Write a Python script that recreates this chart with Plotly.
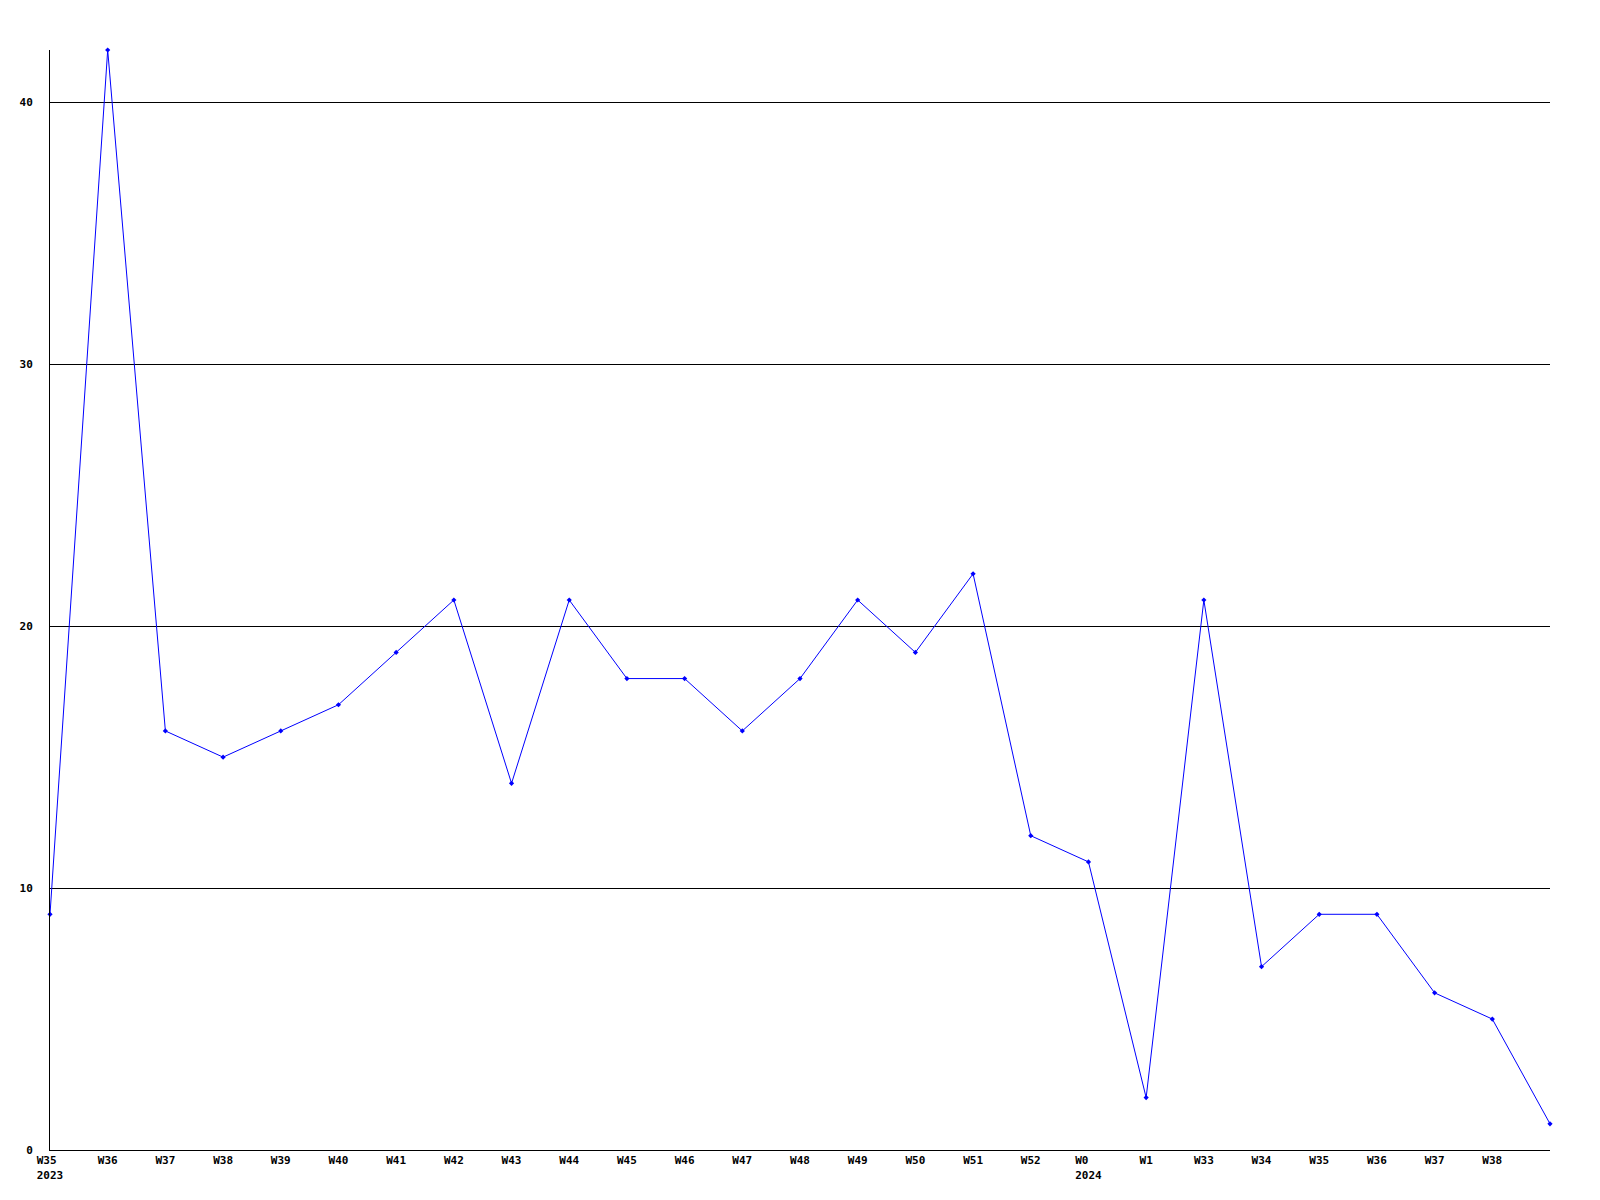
import plotly.graph_objects as go

tick_labels = ["W35 <br>2023", "W36", "W37", "W38", "W39", "W40", "W41", "W42", "W43",
               "W44", "W45", "W46", "W47", "W48", "W49", "W50", "W51", "W52",
               "W0  <br>2024", "W1", "W33", "W34", "W35", "W36", "W37", "W38"]
values = [9, 42, 16, 15, 16, 17, 19, 21, 14, 21, 18, 18, 16, 18, 21, 19, 22,
          12, 11, 2, 21, 7, 9, 9, 6, 5, 1]
y_ticks = [0, 10, 20, 30, 40]

x_pos = list(range(len(values)))

fig = go.Figure()
fig.add_trace(go.Scatter(
    x=x_pos, y=values, mode="lines+markers",
    line=dict(color="#0000ff", width=1),
    marker=dict(color="#0000ff", size=4, symbol="diamond"),
    cliponaxis=False,
    hoverinfo="skip",
))

font = dict(family="DejaVu Sans Mono", size=11, color="black", weight="bold")

fig.update_layout(
    width=1600, height=1200,
    margin=dict(l=50, r=50, t=50, b=50),
    plot_bgcolor="white", paper_bgcolor="white",
    showlegend=False,
    font=font,
)
fig.update_xaxes(
    range=[0, len(values) - 1],
    tickmode="array", tickvals=list(range(len(tick_labels))), ticktext=tick_labels,
    showgrid=False, zeroline=False,
    showline=True, linecolor="black", linewidth=1,
    ticks="", tickfont=font, tickangle=0,
)
fig.update_yaxes(
    range=[0, 42],
    tickmode="array", tickvals=y_ticks, ticktext=[str(v) for v in y_ticks],
    showgrid=True, gridcolor="black", gridwidth=1,
    zeroline=False,
    showline=True, linecolor="black", linewidth=1,
    ticks="", tickfont=font, ticklabelstandoff=14,
)

fig.write_html("out.html", config={"displayModeBar": False},
               post_script="document.body.style.margin='0';")
